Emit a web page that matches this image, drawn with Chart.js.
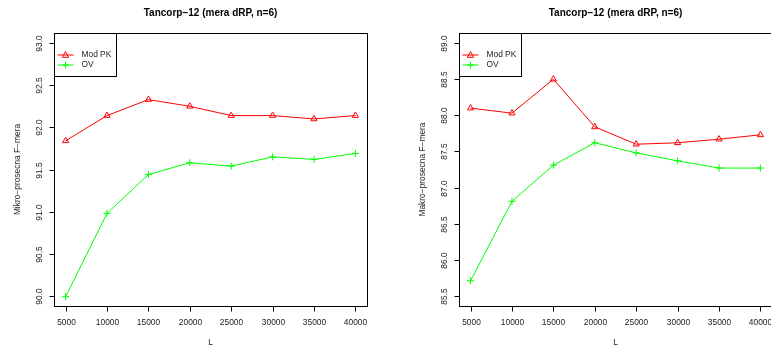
<!DOCTYPE html>
<html>
<head>
<meta charset="utf-8">
<script src="https://cdn.jsdelivr.net/npm/chart.js@4"></script>
<style>
  html, body { margin: 0; padding: 0; background: #fff; overflow: hidden; width: 771px; height: 349px; }
  canvas { position: absolute; top: 0; }
</style>
</head>
<body>
<canvas id="c1" width="385" height="349" style="left:0px"></canvas>
<canvas id="c2" width="405" height="349" style="left:385px"></canvas>
<script>
// ---- data ----
const L_VALUES = [5000, 10000, 15000, 20000, 25000, 30000, 35000, 40000];
const X_TICKS = [5000, 10000, 15000, 20000, 25000, 30000, 35000, 40000];
const SERIES_NAMES = ["Mod PK", "OV"];
const TITLE = "Tancorp\u221212 (mera dRP, n=6)";
const X_TITLE = "L";

const LEFT_Y_TITLE = "Mikro\u2212prosecna F\u2212mera";
const LEFT_MOD_PK = [91.84, 92.14, 92.33, 92.25, 92.14, 92.14, 92.10, 92.14];
const LEFT_OV = [89.99, 90.98, 91.44, 91.58, 91.54, 91.65, 91.62, 91.69];
const LEFT_Y_TICKS = [90.0, 90.5, 91.0, 91.5, 92.0, 92.5, 93.0];

const RIGHT_Y_TITLE = "Makro\u2212prosecna F\u2212mera";
const RIGHT_MOD_PK = [88.10, 88.03, 88.50, 87.84, 87.60, 87.62, 87.67, 87.73];
const RIGHT_OV = [85.71, 86.81, 87.31, 87.62, 87.48, 87.37, 87.27, 87.27];
const RIGHT_Y_TICKS = [85.5, 86.0, 86.5, 87.0, 87.5, 88.0, 88.5, 89.0];

// ---- styling ----
const RED = '#FF0000', GREEN = '#00FF00';
const FONT = '"Liberation Sans", Arial, Helvetica, sans-serif';

function rExtend(lo, hi) { const d = (hi - lo) * 0.04; return [lo - d, hi + d]; }

const rPlugin = {
  id: 'rStyle',
  afterDraw(chart, args, o) {
    const ctx = chart.ctx, a = chart.chartArea, xs = chart.scales.x, ys = chart.scales.y;
    ctx.save();
    ctx.strokeStyle = '#000';
    ctx.fillStyle = '#000';
    ctx.lineWidth = 1;
    const L = Math.round(a.left) + 0.5, R = Math.round(a.right) + 0.5;
    const T = Math.round(a.top) + 0.5, B = Math.round(a.bottom) + 0.5;
    // box
    ctx.strokeRect(L, T, R - L, B - T);
    // y ticks
    ctx.font = '8.4px ' + FONT;
    ctx.textAlign = 'center';
    ctx.textBaseline = 'middle';
    o.yTicks.forEach(v => {
      const yp = Math.round(ys.getPixelForValue(v)) + 0.5;
      ctx.beginPath(); ctx.moveTo(L - 5, yp); ctx.lineTo(L, yp); ctx.stroke();
      ctx.save();
      ctx.translate(a.left - 14, yp);
      ctx.rotate(-Math.PI / 2);
      ctx.fillStyle = '#222';
      ctx.fillText(v.toFixed(1), 0, 0);
      ctx.restore();
    });
    // x ticks
    o.xTicks.forEach(v => {
      const xp = Math.round(xs.getPixelForValue(v)) + 0.5;
      ctx.beginPath(); ctx.moveTo(xp, B); ctx.lineTo(xp, B + 5); ctx.stroke();
      ctx.fillStyle = '#222';
      ctx.fillText(String(v), xp, a.bottom + 16.5);
    });
    // axis titles
    ctx.fillStyle = '#222';
    ctx.fillText(o.xTitle, (a.left + a.right) / 2, a.bottom + 37);
    ctx.save();
    ctx.translate(a.left - 36, (a.top + a.bottom) / 2);
    ctx.rotate(-Math.PI / 2);
    ctx.fillText(o.yTitle, 0, 0);
    ctx.restore();
    // main title
    ctx.font = 'bold 10px ' + FONT;
    ctx.fillStyle = '#000';
    ctx.fillText(o.title, (a.left + a.right) / 2, 13);
    // legend
    const lw = 62, lh = 43;
    ctx.fillStyle = '#fff';
    ctx.fillRect(L, T, lw, lh);
    ctx.strokeStyle = '#000';
    ctx.strokeRect(L, T, lw, lh);
    const rows = [{y: T + 21.5, c: RED, m: 'tri'}, {y: T + 31.5, c: GREEN, m: 'plus'}];
    ctx.font = '8.4px ' + FONT;
    ctx.textAlign = 'left';
    rows.forEach((r, i) => {
      ctx.strokeStyle = r.c;
      ctx.beginPath(); ctx.moveTo(L + 3, r.y); ctx.lineTo(L + 19, r.y); ctx.stroke();
      const cx = L + 11;
      ctx.beginPath();
      if (r.m === 'tri') {
        ctx.moveTo(cx, r.y - 3.5); ctx.lineTo(cx + 3.2, r.y + 2.3); ctx.lineTo(cx - 3.2, r.y + 2.3); ctx.closePath();
      } else {
        ctx.moveTo(cx - 3.5, r.y); ctx.lineTo(cx + 3.5, r.y);
        ctx.moveTo(cx, r.y - 3.5); ctx.lineTo(cx, r.y + 3.5);
      }
      ctx.stroke();
      ctx.fillStyle = '#222';
      ctx.fillText(o.names[i], L + 27, r.y);
    });
    ctx.restore();
  }
};

function makePanel(id, cfg) {
  const [ymin, ymax] = rExtend(cfg.yTicks[0], cfg.yTicks[cfg.yTicks.length - 1]);
  const [xmin, xmax] = rExtend(L_VALUES[0], L_VALUES[L_VALUES.length - 1]);
  const canvas = document.getElementById(id);
  return new Chart(canvas.getContext('2d'), {
    type: 'line',
    data: {
      datasets: [
        {
          label: SERIES_NAMES[0],
          data: L_VALUES.map((x, i) => ({x: x, y: cfg.mod[i]})),
          borderColor: RED, borderWidth: 1, backgroundColor: 'rgba(0,0,0,0)',
          pointStyle: 'triangle', pointRadius: 3.6, pointBorderWidth: 1,
          pointBorderColor: RED, pointBackgroundColor: 'rgba(0,0,0,0)',
          tension: 0, clip: false
        },
        {
          label: SERIES_NAMES[1],
          data: L_VALUES.map((x, i) => ({x: x, y: cfg.ov[i]})),
          borderColor: GREEN, borderWidth: 1, backgroundColor: 'rgba(0,0,0,0)',
          pointStyle: 'cross', pointRadius: 3.5, pointBorderWidth: 1,
          pointBorderColor: GREEN, tension: 0, clip: false
        }
      ]
    },
    options: {
      responsive: false,
      animation: false,
      devicePixelRatio: 1,
      layout: { padding: { left: 0, top: 33, right: cfg.padRight, bottom: 0 } },
      plugins: {
        legend: { display: false },
        title: { display: false },
        tooltip: { enabled: false },
        rStyle: { yTicks: cfg.yTicks, xTicks: X_TICKS, xTitle: X_TITLE, yTitle: cfg.yTitle, title: TITLE, names: SERIES_NAMES }
      },
      scales: {
        x: {
          type: 'linear', min: xmin, max: xmax,
          ticks: { display: false }, grid: { display: false }, border: { display: false },
          afterFit: s => { s.height = 43; }
        },
        y: {
          type: 'linear', min: ymin, max: ymax,
          ticks: { display: false }, grid: { display: false }, border: { display: false },
          afterFit: s => { s.width = cfg.boxLeft; }
        }
      }
    },
    plugins: [rPlugin]
  });
}

makePanel('c1', { mod: LEFT_MOD_PK, ov: LEFT_OV, yTicks: LEFT_Y_TICKS, yTitle: LEFT_Y_TITLE, boxLeft: 54, padRight: 18 });
makePanel('c2', { mod: RIGHT_MOD_PK, ov: RIGHT_OV, yTicks: RIGHT_Y_TICKS, yTitle: RIGHT_Y_TITLE, boxLeft: 74, padRight: 18 });
</script>
</body>
</html>
